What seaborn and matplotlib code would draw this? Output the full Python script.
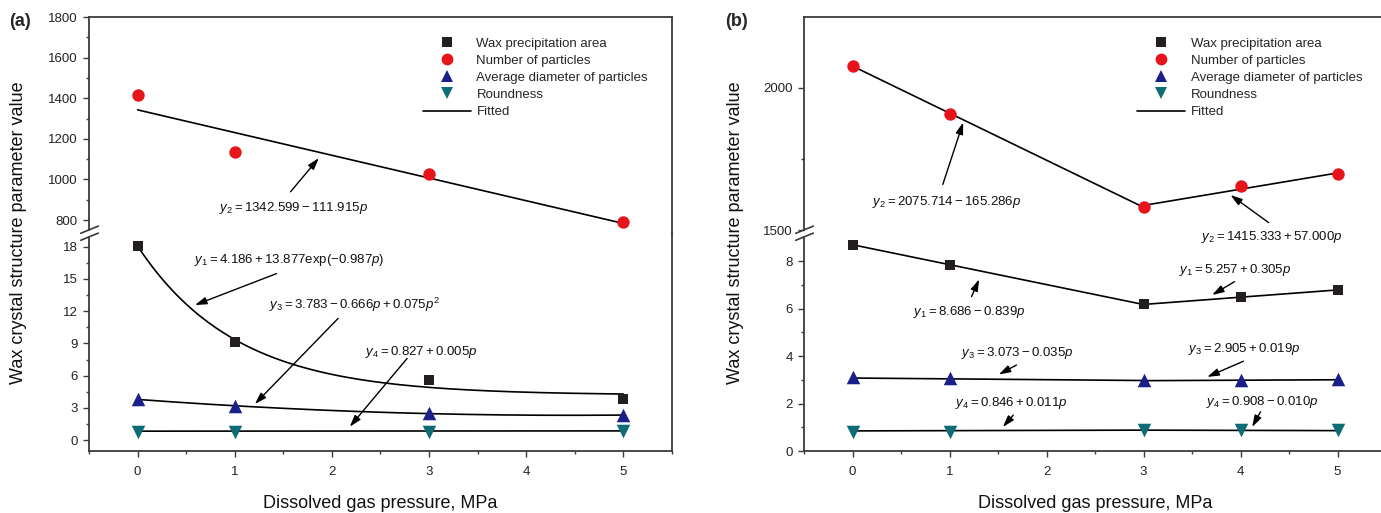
import numpy as np
import pandas as pd
import matplotlib
matplotlib.use("Agg")
import matplotlib.pyplot as plt
import seaborn as sns
from matplotlib.ticker import MultipleLocator
from matplotlib.lines import Line2D

sns.set_style("ticks")
plt.rcParams["font.family"] = ["Liberation Sans", "DejaVu Sans"]
plt.rcParams["mathtext.fontset"] = "custom"
plt.rcParams["mathtext.rm"] = "Liberation Sans"
plt.rcParams["mathtext.it"] = "Liberation Sans:italic"
plt.rcParams["mathtext.bf"] = "Liberation Sans:bold"

# ---------------- data ----------------
pressure_a = [0, 1, 3, 5]
area_a = [18.1, 9.1, 5.6, 3.8]
particles_a = [1416, 1133, 1025, 792]
diameter_a = [3.85, 3.2, 2.55, 2.35]
roundness_a = [0.78, 0.78, 0.78, 0.8]

pressure_b = [0, 1, 3, 4, 5]
area_b = [8.68, 7.84, 6.19, 6.49, 6.78]
particles_b = [2077, 1908, 1582, 1656, 1697]
diameter_b = [3.1, 3.08, 3.0, 3.0, 3.05]
roundness_b = [0.8, 0.8, 0.87, 0.87, 0.87]

# fitted-equation coefficients (as printed on the chart)
fit_a_area = [4.186, 13.877, -0.987]          # a + b*exp(c p)
fit_a_particles = [1342.599, -111.915]         # a + b p
fit_a_diameter = [3.783, -0.666, 0.075]        # a + b p + c p^2
fit_a_roundness = [0.827, 0.005]
fit_b_segments = [(0, 3), (3, 5)]
fit_b_area = [[8.686, -0.839], [5.257, 0.305]]
fit_b_particles = [[2075.714, -165.286], [1415.333, 57.000]]
fit_b_diameter = [[3.073, -0.035], [2.905, 0.019]]
fit_b_roundness = [[0.846, 0.011], [0.908, -0.010]]

series_names = ["Wax precipitation area", "Number of particles",
                "Average diameter of particles", "Roundness"]
colors = ["#231f20", "#e8141c", "#1b1f8a", "#0d6c75"]
markers = ["s", "o", "^", "v"]
msizes = [62, 80, 95, 95]

W, H = 1381, 513
fig = plt.figure(figsize=(W / 100, H / 100), dpi=100)

SPINE = "#3a3a3a"

def px_rect(left, top, right, bottom):
    return [left / W, 1 - bottom / H, (right - left) / W, (bottom - top) / H]

def style_axes(ax, part):
    ax.patch.set_facecolor("none")
    for s in ax.spines.values():
        s.set_color(SPINE)
        s.set_linewidth(1.3)
    ax.tick_params(which="both", direction="out", color=SPINE, width=1.0,
                   labelsize=9.5, labelcolor="#222222", right=False, top=False)
    ax.tick_params(which="major", length=4.5)
    ax.tick_params(which="minor", length=2.5)
    ax.tick_params(axis="x", which="major", pad=6)
    ax.set_xlim(-0.5, 5.5)
    ax.set_xlabel("")
    ax.set_ylabel("")
    if part == "top":
        ax.spines["bottom"].set_visible(False)
        ax.tick_params(axis="x", which="both", bottom=False, labelbottom=False)
    else:
        ax.spines["top"].set_visible(False)
        ax.xaxis.set_major_locator(MultipleLocator(1))
        ax.xaxis.set_minor_locator(MultipleLocator(0.5))

def scatter(ax, x, y, i):
    df = pd.DataFrame({"p": x, "v": y})
    sns.scatterplot(data=df, x="p", y="v", ax=ax, color=colors[i], marker=markers[i],
                    s=msizes[i], linewidth=0, zorder=3, legend=False)

def fitline(ax, x, y):
    df = pd.DataFrame({"p": x, "v": y})
    sns.lineplot(data=df, x="p", y="v", ax=ax, color="black", lw=1.2, zorder=2,
                 legend=False, sort=False, estimator=None)

def note(ax, txy, text, tail, head):
    ax.text(txy[0], txy[1], text, ha="center", va="center", fontsize=9.5, color="#111111")
    ax.annotate("", xy=head, xytext=tail, annotation_clip=False,
                arrowprops=dict(arrowstyle="-|>,head_length=0.7,head_width=0.22",
                                color="black", lw=1.0, shrinkA=0, shrinkB=0))

def legend(ax):
    handles = [Line2D([], [], ls="none", marker=markers[i], color=colors[i],
                      markersize=[7, 8.5, 9, 9][i], markeredgewidth=0, label=series_names[i])
               for i in range(4)]
    handles.append(Line2D([], [], color="black", lw=1.2, label="Fitted"))
    ax.legend(handles=handles, loc="upper left", bbox_to_anchor=(0.573, 0.905),
              frameon=False, fontsize=9.5, handlelength=3.6, handletextpad=0.45,
              labelspacing=0.37, borderpad=0, borderaxespad=0)

def breaks(left_px, jy_top, jy_bot):
    for cy in (jy_top, jy_bot):
        fig.add_artist(Line2D([(left_px - 8.8) / W, (left_px + 8.8) / W],
                              [1 - (cy + 3.6) / H, 1 - (cy - 3.6) / H],
                              color=SPINE, lw=1.2, transform=fig.transFigure))

def gap_spines(ax_t, ax_b, top_h_px, bot_h_px, gap_t, gap_b):
    y0, y1 = ax_t.get_ylim()
    ax_t.spines["left"].set_bounds(y0 + gap_t / top_h_px * (y1 - y0), y1)
    b0, b1 = ax_b.get_ylim()
    ax_b.spines["left"].set_bounds(b0, b1 - gap_b / bot_h_px * (b1 - b0))

grid = np.linspace(0, 5, 200)

# ================= panel (a) =================
JOIN = 233
axa_t = fig.add_axes(px_rect(89, 17, 672, JOIN))
axa_b = fig.add_axes(px_rect(89, JOIN, 672, 451))

scatter(axa_t, pressure_a, particles_a, 1)
fitline(axa_t, grid, fit_a_particles[0] + fit_a_particles[1] * grid)

scatter(axa_b, pressure_a, area_a, 0)
scatter(axa_b, pressure_a, diameter_a, 2)
scatter(axa_b, pressure_a, roundness_a, 3)
fitline(axa_b, grid, fit_a_area[0] + fit_a_area[1] * np.exp(fit_a_area[2] * grid))
fitline(axa_b, grid, fit_a_diameter[0] + fit_a_diameter[1] * grid + fit_a_diameter[2] * grid ** 2)
fitline(axa_b, grid, fit_a_roundness[0] + fit_a_roundness[1] * grid)

style_axes(axa_t, "top")
style_axes(axa_b, "bottom")
axa_t.set_ylim(736, 1800)
axa_t.yaxis.set_major_locator(MultipleLocator(200))
axa_t.yaxis.set_minor_locator(MultipleLocator(100))
axa_b.set_ylim(-1.02, 19.28)
axa_b.yaxis.set_major_locator(MultipleLocator(3))
axa_b.yaxis.set_minor_locator(MultipleLocator(1.5))
gap_spines(axa_t, axa_b, JOIN - 17, 451 - JOIN, 3.3, 3.7)
breaks(89.5, 229.7, 236.7)
legend(axa_t)

note(axa_t, (1.6, 859), r"$y_2 = 1342.599 - 111.915p$", (1.574, 939), (1.865, 1105))
note(axa_b, (1.556, 16.76), r"$y_1 = 4.186 + 13.877\mathrm{exp}(-0.987p)$", (1.43, 15.5), (0.59, 12.57))
note(axa_b, (2.23, 12.57), r"$y_3 = 3.783 - 0.666p + 0.075p^2$", (2.064, 11.33), (1.207, 3.35))
note(axa_b, (2.917, 8.17), r"$y_4 = 0.827 + 0.005p$", (2.774, 7.6), (2.184, 1.24))

# ================= panel (b) =================
axb_t = fig.add_axes(px_rect(804, 17, 1386, JOIN))
axb_b = fig.add_axes(px_rect(804, JOIN, 1386, 451))

scatter(axb_t, pressure_b, particles_b, 1)
scatter(axb_b, pressure_b, area_b, 0)
scatter(axb_b, pressure_b, diameter_b, 2)
scatter(axb_b, pressure_b, roundness_b, 3)
for k, (s0, s1) in enumerate(fit_b_segments):
    g = np.linspace(s0, s1, 50)
    fitline(axb_t, g, fit_b_particles[k][0] + fit_b_particles[k][1] * g)
    fitline(axb_b, g, fit_b_area[k][0] + fit_b_area[k][1] * g)
    fitline(axb_b, g, fit_b_diameter[k][0] + fit_b_diameter[k][1] * g)
    fitline(axb_b, g, fit_b_roundness[k][0] + fit_b_roundness[k][1] * g)

style_axes(axb_t, "top")
style_axes(axb_b, "bottom")
axb_t.set_ylim(1489.5, 2248)
axb_t.yaxis.set_major_locator(MultipleLocator(500))
axb_t.yaxis.set_minor_locator(MultipleLocator(250))
axb_b.set_ylim(0, 9.18)
axb_b.yaxis.set_major_locator(MultipleLocator(2))
axb_b.yaxis.set_minor_locator(MultipleLocator(1))
gap_spines(axb_t, axb_b, JOIN - 17, 451 - JOIN, 3.3, 3.7)
breaks(804.5, 229.7, 236.7)
legend(axb_t)

note(axb_t, (0.969, 1599), r"$y_2 = 2075.714 - 165.286p$", (0.931, 1660), (1.141, 1878))
note(axb_t, (4.32, 1474), r"$y_2 = 1415.333 + 57.000p$", (4.29, 1526), (3.897, 1623))
note(axb_b, (1.203, 5.865), r"$y_1 = 8.686 - 0.839p$", (1.227, 6.5), (1.306, 7.23))
note(axb_b, (1.70, 4.11), r"$y_3 = 3.073 - 0.035p$", (1.69, 3.62), (1.508, 3.22))
note(axb_b, (1.64, 2.03), r"$y_4 = 0.846 + 0.011p$", (1.657, 1.51), (1.55, 1.01))
note(axb_b, (3.945, 7.62), r"$y_1 = 5.257 + 0.305p$", (3.938, 7.13), (3.708, 6.57))
note(axb_b, (4.04, 4.29), r"$y_3 = 2.905 + 0.019p$", (4.03, 3.78), (3.657, 3.12))
note(axb_b, (4.22, 2.07), r"$y_4 = 0.908 - 0.010p$", (4.206, 1.65), (4.12, 1.01))

# ================= figure texts =================
for cx, ylx in [(380.5, 19), (1095, 735)]:
    fig.text(cx / W, 1 - 503 / H, "Dissolved gas pressure, MPa", ha="center", va="center",
             fontsize=13, color="#111111")
    fig.text(ylx / W, 1 - 233 / H, "Wax crystal structure parameter value", rotation=90,
             ha="center", va="center", fontsize=13, color="#111111")
fig.text(20 / W, 1 - 22 / H, "(a)", ha="center", va="center", fontsize=13, weight="bold")
fig.text(736 / W, 1 - 22 / H, "(b)", ha="center", va="center", fontsize=13, weight="bold")

fig.savefig("out.png", dpi=100)
